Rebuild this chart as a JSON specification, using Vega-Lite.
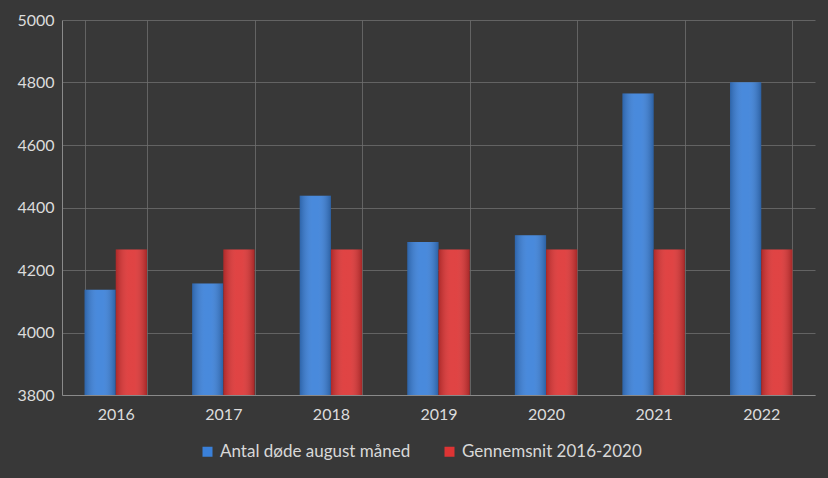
{
  "$schema": "https://vega.github.io/schema/vega-lite/v6.json",
  "width": 753,
  "height": 375,
  "autosize": {"type": "none"},
  "padding": {"left": 62, "top": 20, "right": 13, "bottom": 83},
  "background": "#383838",
  "config": {
    "font": "Lato",
    "view": {"stroke": null},
    "axis": {"labelColor": "#dcdcdc", "labelFontSize": 16, "gridColor": "#6e6e6e", "gridOpacity": 0.8, "domainColor": "#8a8a8a", "ticks": false}
  },
  "data": {
    "values": [
      {"year": "2016", "series": "Antal døde august måned", "value": 4137},
      {"year": "2016", "series": "Gennemsnit 2016-2020", "value": 4266},
      {"year": "2017", "series": "Antal døde august måned", "value": 4157},
      {"year": "2017", "series": "Gennemsnit 2016-2020", "value": 4266},
      {"year": "2018", "series": "Antal døde august måned", "value": 4438},
      {"year": "2018", "series": "Gennemsnit 2016-2020", "value": 4266},
      {"year": "2019", "series": "Antal døde august måned", "value": 4290},
      {"year": "2019", "series": "Gennemsnit 2016-2020", "value": 4266},
      {"year": "2020", "series": "Antal døde august måned", "value": 4311},
      {"year": "2020", "series": "Gennemsnit 2016-2020", "value": 4266},
      {"year": "2021", "series": "Antal døde august måned", "value": 4765},
      {"year": "2021", "series": "Gennemsnit 2016-2020", "value": 4266},
      {"year": "2022", "series": "Antal døde august måned", "value": 4801},
      {"year": "2022", "series": "Gennemsnit 2016-2020", "value": 4266}
    ]
  },
  "encoding": {
    "x": {
      "field": "year", "type": "nominal", "title": null,
      "scale": {"paddingInner": 0.42, "paddingOuter": 0.21},
      "axis": {"labelAngle": 0, "tickBand": "extent", "grid": true, "labelPadding": 11}
    },
    "xOffset": {"field": "series", "type": "nominal", "sort": ["Antal døde august måned", "Gennemsnit 2016-2020"]},
    "y": {
      "field": "value", "type": "quantitative", "title": null,
      "scale": {"domain": [3800, 5000], "zero": false, "nice": false},
      "axis": {"values": [3800, 4000, 4200, 4400, 4600, 4800, 5000], "format": "d", "labelPadding": 8, "domain": true}
    }
  },
  "layer": [
    {
      "mark": {"type": "bar", "clip": true},
      "encoding": {
        "color": {
          "field": "series", "type": "nominal", "title": null,
          "sort": ["Antal døde august måned", "Gennemsnit 2016-2020"],
          "scale": {"range": ["#3a80d9", "#dd3434"]},
          "legend": {
            "orient": "none", "direction": "horizontal", "legendX": 137, "legendY": 423,
            "symbolType": "square", "symbolSize": 100, "labelFontSize": 17, "labelColor": "#d8d8d8",
            "labelLimit": 400, "columnPadding": 30, "symbolOffset": 0, "labelOffset": 4
          }
        }
      }
    },
    {
      "mark": {
        "type": "bar", "clip": true,
        "color": {
          "gradient": "linear", "x1": 0, "x2": 1, "y1": 0, "y2": 0,
          "stops": [
            {"offset": 0, "color": "rgba(0,0,0,0.22)"},
            {"offset": 0.4, "color": "rgba(255,255,255,0.08)"},
            {"offset": 0.6, "color": "rgba(255,255,255,0.08)"},
            {"offset": 1, "color": "rgba(0,0,0,0.25)"}
          ]
        }
      }
    }
  ]
}
